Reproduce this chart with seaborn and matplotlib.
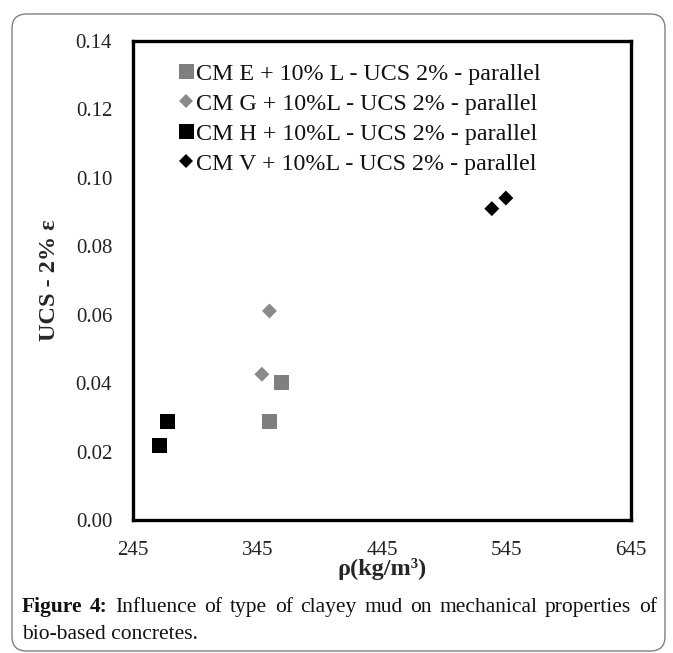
import numpy as np
import pandas as pd
import matplotlib
matplotlib.use("Agg")
import matplotlib.pyplot as plt
import seaborn as sns
from matplotlib.patches import FancyBboxPatch
from matplotlib.lines import Line2D

sns.set_style("white")
plt.rcParams['font.family'] = ['Liberation Serif', 'DejaVu Serif']

# Data
series = ['CM E + 10% L - UCS 2% - parallel',
          'CM G + 10%L - UCS 2% - parallel',
          'CM H + 10%L - UCS 2% - parallel',
          'CM V + 10%L - UCS 2% - parallel']
e_rho = [354.6, 364.0]
e_ucs = [0.0287, 0.0402]
g_rho = [348.5, 354.6]
g_ucs = [0.0426, 0.0611]
h_rho = [266.0, 273.0]
h_ucs = [0.0218, 0.0287]
v_rho = [533.2, 544.5]
v_ucs = [0.0910, 0.0941]

x_ticks = [245, 345, 445, 545, 645]
y_ticks = [0.00, 0.02, 0.04, 0.06, 0.08, 0.10, 0.12, 0.14]

caption_bold = 'Figure 4:'
caption_line1 = 'Influence of type of clayey mud on mechanical properties of'
caption_line2 = 'bio-based concretes.'

df = pd.DataFrame({
    'rho': e_rho + g_rho + h_rho + v_rho,
    'ucs': e_ucs + g_ucs + h_ucs + v_ucs,
    'serie': [series[0]] * 2 + [series[1]] * 2 + [series[2]] * 2 + [series[3]] * 2,
})

palette = {series[0]: '#7f7f7f', series[1]: '#8a8a8a',
           series[2]: '#000000', series[3]: '#000000'}
markers = {series[0]: 's', series[1]: 'D', series[2]: 's', series[3]: 'D'}
df['mk'] = df['serie'].map(markers)

fig = plt.figure(figsize=(6.73, 6.53), dpi=100)
ax = fig.add_axes([0.1976, 0.2037, 0.7400, 0.7335])

# squares and diamonds drawn separately so the diamonds can be smaller
sq = df[df['mk'] == 's']
di = df[df['mk'] == 'D']
sns.scatterplot(data=sq, x='rho', y='ucs', hue='serie', palette=palette,
                marker='s', s=117, linewidth=0, ax=ax, legend=False)
sns.scatterplot(data=di, x='rho', y='ucs', hue='serie', palette=palette,
                marker='D', s=58, linewidth=0, ax=ax, legend=False)

ax.set_xlim(245, 645)
ax.set_ylim(0, 0.14)
ax.set_xticks(x_ticks)
ax.set_yticks(y_ticks)
ax.set_yticklabels([f'{v:.2f}' for v in y_ticks])
ax.tick_params(labelsize=15, length=0, pad=15, labelcolor='#222222')
for sp in ax.spines.values():
    sp.set_linewidth(2.4)
    sp.set_color('black')
    sp.set_visible(True)

ax.set_xlabel('ρ(kg/m³)', fontsize=17.5, fontweight='bold', labelpad=-1)
ax.set_ylabel('UCS - 2% ε', fontsize=17.5, fontweight='bold', labelpad=11)

# legend
handles = [Line2D([], [], linestyle='none', marker=markers[s], color=palette[s],
                  markersize=10.8 if markers[s] == 's' else 7.0, markeredgewidth=0)
           for s in series]
ax.legend(handles, series, loc='upper left', bbox_to_anchor=(0.09, 0.954),
          frameon=False, fontsize=17.3, handlelength=0.66, handletextpad=0.1,
          labelspacing=0.34, borderaxespad=0, borderpad=0,
          labelcolor='#111111')

# outer rounded border
box = FancyBboxPatch((12 / 673, 2 / 653), 653 / 673, 637 / 653,
                     boxstyle='round,pad=0,rounding_size=0.022',
                     transform=fig.transFigure, facecolor='none',
                     edgecolor='#808080', linewidth=1.0)
fig.patches.append(box)

# caption, first line justified between the box margins
renderer = fig.canvas.get_renderer()
left_px, right_px = 22, 657
base1 = 1 - 612 / 653
base2 = 1 - 639 / 653
words = [(w, 'bold') for w in caption_bold.split()] + \
        [(w, 'normal') for w in caption_line1.split()]
texts = []
widths = []
for w, fw in words:
    t = fig.text(0, base1, w, fontsize=15.5, fontweight=fw, ha='left',
                 va='baseline', color='#111111')
    texts.append(t)
    widths.append(t.get_window_extent(renderer).width)
gap = (right_px - left_px - sum(widths)) / (len(words) - 1)
x = left_px
for t, wd in zip(texts, widths):
    t.set_x(x / 673)
    x += wd + gap
fig.text(left_px / 673, base2, caption_line2, fontsize=15.5, ha='left',
         va='baseline', color='#111111')

fig.savefig('out.png', dpi=100)
